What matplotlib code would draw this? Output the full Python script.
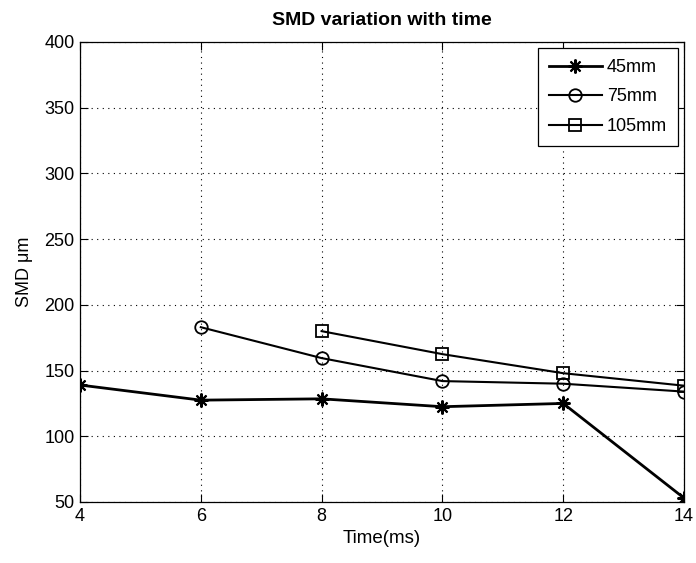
import matplotlib
matplotlib.use("Agg")
import matplotlib.pyplot as plt

time_45 = [4, 6, 8, 10, 12, 14]
smd_45 = [139, 127.5, 128.5, 122.5, 125, 53]
time_75 = [6, 8, 10, 12, 14]
smd_75 = [183, 159.5, 142, 140, 134]
time_105 = [8, 10, 12, 14]
smd_105 = [180, 162.5, 148, 138.5]
labels = ["45mm", "75mm", "105mm"]
xticks = [4, 6, 8, 10, 12, 14]
yticks = [50, 100, 150, 200, 250, 300, 350, 400]

plt.rcParams['font.family'] = ['Liberation Sans', 'DejaVu Sans']
W, H = 696, 563
fig = plt.figure(figsize=(W/100, H/100), dpi=100)
L, R, T, B = 80, 684, 42, 502
ax = fig.add_axes([L/W, 1-B/H, (R-L)/W, (B-T)/H])

ax.plot(time_45, smd_45, color='black', lw=2.0, marker=(8, 2, 0), ms=10, mew=1.5, label=labels[0])
ax.plot(time_75, smd_75, color='black', lw=1.5, marker='o', ms=9, mfc='none', mew=1.3, label=labels[1])
ax.plot(time_105, smd_105, color='black', lw=1.5, marker='s', ms=8, mfc='none', mew=1.3, label=labels[2])

ax.set_xlim(4, 14)
ax.set_ylim(50, 400)
ax.set_xticks(xticks)
ax.set_yticks(yticks)
ax.grid(True, color='black', linestyle=(0, (1, 4)), lw=0.8)
ax.tick_params(direction='in', labelsize=13, length=6, top=True, right=True, pad=4)
for s in ax.spines.values():
    s.set_linewidth(0.9)
ax.set_xlabel("Time(ms)", fontsize=13.5, labelpad=4)
ax.set_ylabel("SMD \u03bcm", fontsize=13, labelpad=8)
ax.set_title("SMD variation with time", fontsize=14, fontweight='bold', pad=12)
leg = ax.legend(loc='upper right', bbox_to_anchor=((678-L)/(R-L), 1-(48-T)/(B-T)),
                borderaxespad=0, fontsize=13, frameon=True, fancybox=False,
                edgecolor='black', handlelength=2.9, labelspacing=0.7,
                handletextpad=0.3, borderpad=0.6, framealpha=1)
leg.get_frame().set_linewidth(0.9)
fig.savefig("out.png", dpi=100)
